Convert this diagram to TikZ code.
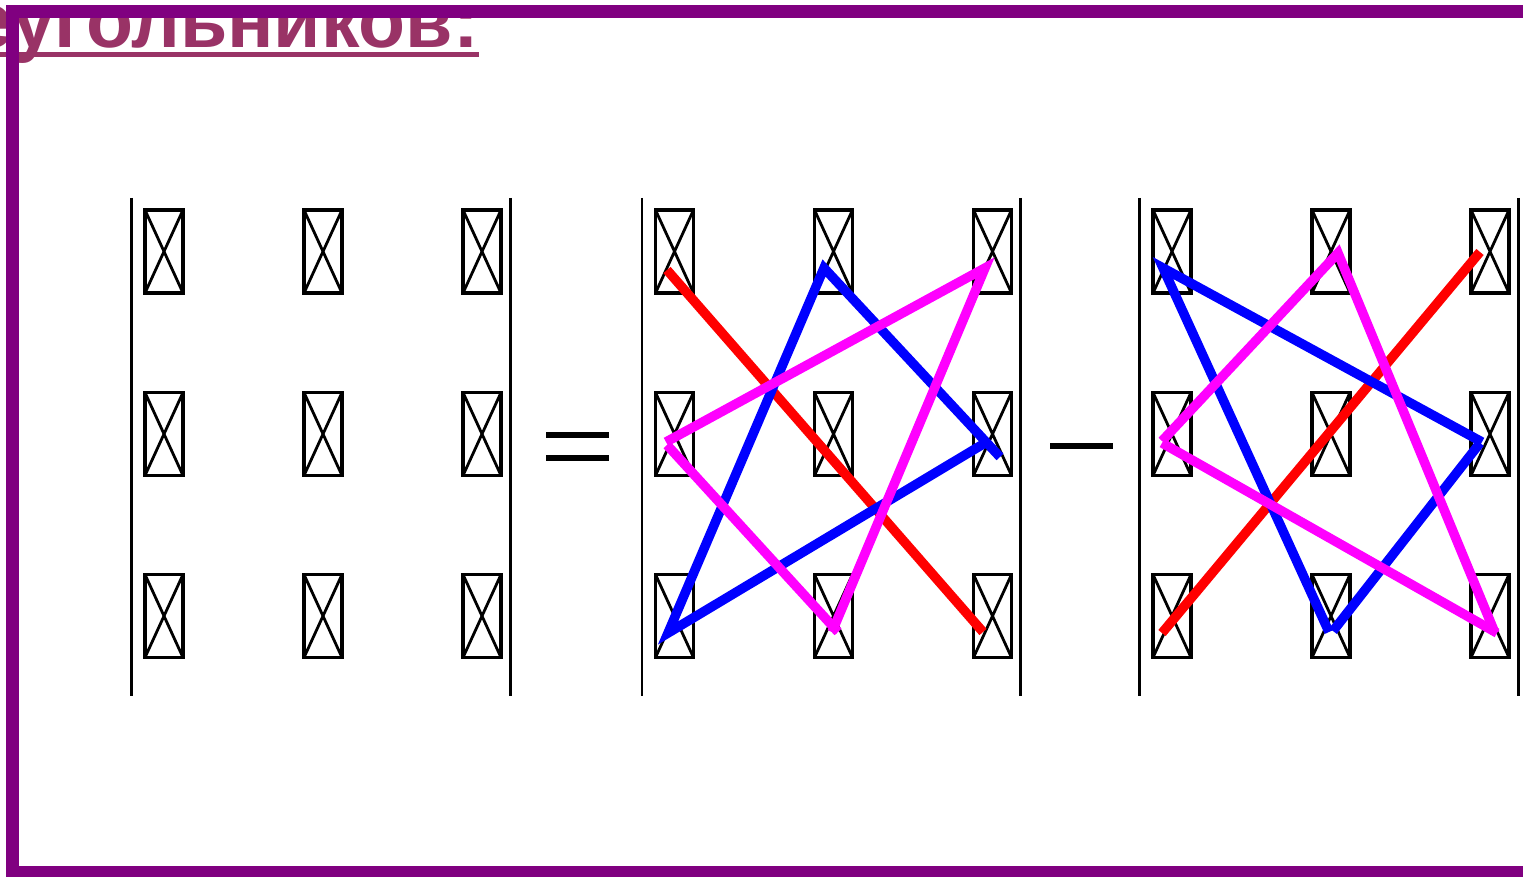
\documentclass[tikz,border=0pt]{standalone}
\usepackage{fontspec}
\newfontfamily\titlefont{Liberation Sans}
\definecolor{framepurple}{HTML}{800080}
\definecolor{titlecol}{HTML}{993366}
\definecolor{linered}{HTML}{FF0000}
\definecolor{lineblue}{HTML}{0000FF}
\definecolor{linemag}{HTML}{FF00FF}
\begin{document}
\begin{tikzpicture}[x=1pt,y=-1pt,
  cellbox/.style={draw, line width=3.5pt, minimum width=38pt, minimum height=83pt, inner sep=0pt,
    path picture={\draw[line width=2.8pt] (path picture bounding box.north west) -- (path picture bounding box.south east)
      (path picture bounding box.north east) -- (path picture bounding box.south west);}},
  detbar/.style={line width=2.4pt},
  opbar/.style={line width=6pt},
  seg/.style={line width=9.5pt},
  framestyle/.style={line width=13pt, color=framepurple, line join=miter}]
\useasboundingbox (0,0) rectangle (1523,877);
% title
\node[anchor=base east, inner sep=0pt, text=titlecol, font=\titlefont\bfseries\fontsize{77}{80}\selectfont] (title) at (479,48) {еугольников:};
\draw[titlecol, line width=5pt] ([yshift=-7pt]title.base west) -- ([yshift=-7pt]title.base east);
% frame
\coordinate (ftr) at (1535,11.5);
\coordinate (ftl) at (12.5,11.5);
\coordinate (fbl) at (12.5,872.5);
\coordinate (fbr) at (1535,872.5);
\draw[framestyle] (ftr) -- (ftl) -- (fbl) -- (fbr);
% boxes
\foreach \m/\xa in {a/164, b/674.5, c/1172}{
  \foreach \c [count=\ci] in {0,159,318}{
    \foreach \r/\yy in {1/251.5, 2/434, 3/616}{
      \node[cellbox] (\m\r\ci) at (\xa+\c,\yy) {};
    }
  }
}
% determinant bars
\foreach \n/\xx in {a1/131.5, a2/510.5, b1/642, b2/1020.5, c1/1139.5, c2/1518.5}{
  \coordinate (\n t) at (\xx,198);
  \coordinate (\n b) at (\xx,696);
  \draw[detbar] (\n t) -- (\n b);
}
% equals and minus
\coordinate (eq1l) at (546,435.3); \coordinate (eq1r) at (609,435.3);
\coordinate (eq2l) at (546,457.5); \coordinate (eq2r) at (609,457.5);
\coordinate (mil) at (1050,446); \coordinate (mir) at (1113,446);
\draw[opbar] (eq1l) -- (eq1r);
\draw[opbar] (eq2l) -- (eq2r);
\draw[opbar] (mil) -- (mir);
% matrix 2 lines
\coordinate (r2s) at (667,270); \coordinate (r2e) at (983,632);
\coordinate (b2a) at (824,268); \coordinate (b2b) at (1000,457);
\coordinate (b2c) at (985,443); \coordinate (b2d) at (668,633);
\coordinate (m2a) at (985,268); \coordinate (m2b) at (666,442);
\coordinate (m2c) at (667,445); \coordinate (m2d) at (838,632);
\coordinate (m2e) at (832,632);
\draw[seg, linered] (r2s) -- (r2e);
\draw[seg, lineblue] (b2b) -- (b2a) -- (b2d) -- (b2c);
\draw[seg, linemag] (m2b) -- (m2a) -- (m2e);
\draw[seg, linemag] (m2c) -- (m2d);
% matrix 3 lines
\coordinate (r3s) at (1162,633); \coordinate (r3e) at (1480,252);
\coordinate (b3a) at (1163,268); \coordinate (b3b) at (1482,442);
\coordinate (b3c) at (1480,443); \coordinate (b3d) at (1333,631);
\coordinate (b3e) at (1329,632);
\coordinate (m3a) at (1338,253); \coordinate (m3b) at (1162,441);
\coordinate (m3c) at (1162,443); \coordinate (m3d) at (1497,633);
\coordinate (m3e) at (1495,633);
\draw[seg, linered] (r3s) -- (r3e);
\draw[seg, lineblue] (b3b) -- (b3a) -- (b3e);
\draw[seg, lineblue] (b3c) -- (b3d);
\draw[seg, linemag] (m3b) -- (m3a) -- (m3e);
\draw[seg, linemag] (m3c) -- (m3d);
\end{tikzpicture}
\end{document}
